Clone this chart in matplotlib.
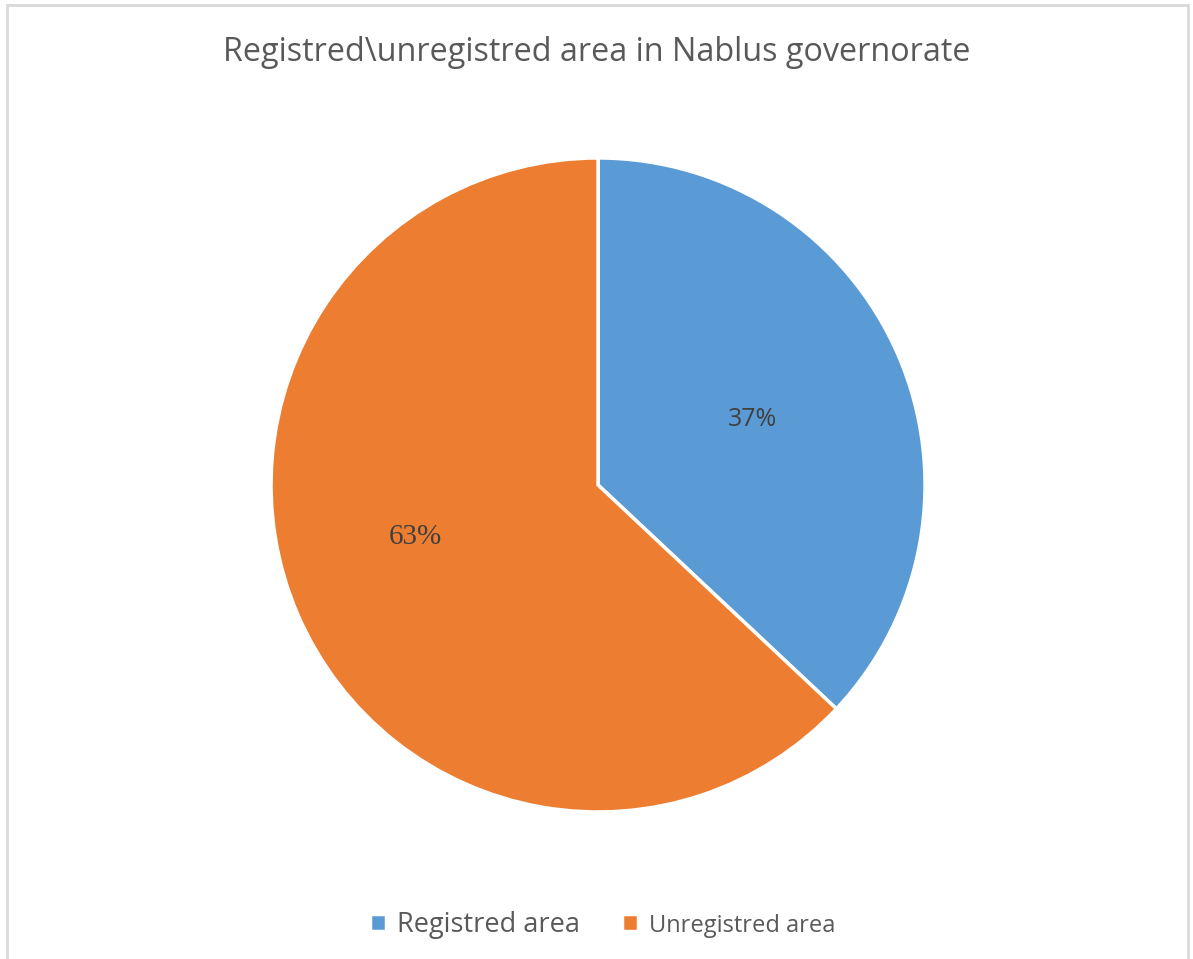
import matplotlib.pyplot as plt
from matplotlib.patches import Rectangle

labels = ["Registred area", "Unregistred area"]
shares = [37, 63]
colors = ["#5B9BD5", "#ED7D31"]

fig = plt.figure(figsize=(11.93, 9.59), dpi=100)
fig.patches.append(Rectangle((0.006, -0.01), 0.99, 1.005, transform=fig.transFigure,
                             fill=False, edgecolor="#d9d9d9", linewidth=2))

ax = fig.add_axes([0.2272, 0.1533, 0.5482, 0.682])
wedges, texts, autotexts = ax.pie(
    shares, colors=colors, startangle=90, counterclock=False,
    autopct="%d%%", pctdistance=0.54,
    wedgeprops=dict(edgecolor="white", linewidth=2.5),
)
ax.set_xlim(-1, 1)
ax.set_ylim(-1, 1)
ax.set_aspect("equal")

# label placement as in the original chart
autotexts[0].set_position((0.471, 0.199))
autotexts[0].set_fontsize(18)
autotexts[0].set_color("#404040")
autotexts[0].set_family("Open Sans")
autotexts[1].set_position((-0.56, -0.159))
autotexts[1].set_fontsize(21)
autotexts[1].set_color("#404040")
autotexts[1].set_family("Liberation Serif")

fig.text(0.5, 0.945, "Registred\\unregistred area in Nablus governorate",
         ha="center", va="center", fontsize=23.3, color="#595959", family="Open Sans")

leg = fig.legend(wedges, labels, loc="center", bbox_to_anchor=(0.505, 0.035), ncol=2,
                 frameon=False, handlelength=0.6, handleheight=0.6, handletextpad=0.4,
                 columnspacing=1.55, prop={"family": "Open Sans", "size": 19.5})
for t in leg.get_texts():
    t.set_color("#595959")
leg.get_texts()[1].set_fontsize(17)

fig.savefig("out.png", dpi=100)
